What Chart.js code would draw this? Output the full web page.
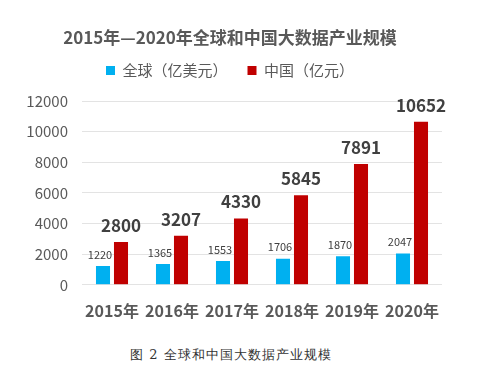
<!DOCTYPE html>
<html>
<head>
<meta charset="utf-8">
<script src="https://cdn.jsdelivr.net/npm/chart.js@4/dist/chart.umd.min.js"></script>
<style>
	body { margin: 0; background: #fff; }
	#wrap { position: relative; width: 496px; height: 382px; }
	#scale-chart { position: absolute; left: 0; top: 0; }
	#caption {
		position: absolute; left: 0; top: 346px; width: 462px;
		text-align: center; font: 13px "SimSun", "DejaVu Serif", serif;
		letter-spacing: 1px; color: #333;
	}
</style>
</head>
<body>
<div id="wrap">
	<canvas id="scale-chart" width="460" height="330"></canvas>
	<div id="caption">图 2 全球和中国大数据产业规模</div>
</div>
<script>
//
// Global vs China big data industry
//

var years = ['2015年', '2016年', '2017年', '2018年', '2019年', '2020年'];
var globalValues = [1220, 1365, 1553, 1706, 1870, 2047];
var chinaValues = [2800, 3207, 4330, 5845, 7891, 10652];
var yMax = 12000;
var yStep = 2000;

var ScaleChart = (function() {

	//
	// Variables
	//

	var $chart = document.getElementById('scale-chart');
	var font = '"Noto Sans CJK SC", "Noto Sans", sans-serif';
	var grey = '#595959';


	//
	// Methods
	//

	// Value labels above the bars
	var valueLabels = {
		id: 'valueLabels',
		afterDatasetsDraw: function(chart) {
			var ctx = chart.ctx;
			ctx.save();
			ctx.textAlign = 'center';
			ctx.textBaseline = 'bottom';
			ctx.fillStyle = '#404040';
			chart.data.datasets.forEach(function(ds, i) {
				var big = i === 1;
				ctx.font = (big ? 'bold 17px ' : '11px ') + font;
				chart.getDatasetMeta(i).data.forEach(function(bar, j) {
					ctx.fillText(ds.data[j], bar.x - (big ? 0 : 3), bar.y - (big ? 8 : 6));
				});
			});
			ctx.restore();
		}
	};

	// Extra room under the legend
	var legendGap = {
		id: 'legendGap',
		beforeInit: function(chart) {
			var fit = chart.legend.fit;
			chart.legend.fit = function() {
				fit.call(this);
				this.height += 13;
			};
		}
	};

	// Init chart
	function initChart($chart) {

		// Create chart
		var chart = new Chart($chart, {
			type: 'bar',
			data: {
				labels: years,
				datasets: [{
					label: '全球（亿美元）',
					data: globalValues,
					backgroundColor: '#00b0f0'
				}, {
					label: '中国（亿元）',
					data: chinaValues,
					backgroundColor: '#c00000'
				}]
			},
			options: {
				responsive: false,
				animation: false,
				categoryPercentage: 0.6,
				barPercentage: 0.78,
				layout: { padding: { top: 0, right: 18, bottom: 0, left: 18 } },
				plugins: {
					title: {
						display: true,
						text: '2015年—2020年全球和中国大数据产业规模',
						color: grey,
						font: { family: font, size: 17, weight: 'bold', lineHeight: 1 },
						padding: { top: 29, bottom: -3 }
					},
					legend: {
						labels: {
							color: grey,
							font: { family: font, size: 15 },
							boxWidth: 9,
							boxHeight: 9,
							padding: 20
						}
					},
					tooltip: { enabled: false }
				},
				scales: {
					x: {
						grid: { display: false },
						border: { display: false },
						ticks: {
							color: grey,
							padding: 9,
							font: { family: font, size: 16, weight: 'bold' }
						}
					},
					y: {
						min: 0,
						max: yMax,
						afterFit: function(scale) { scale.width = 64; },
						grid: { color: '#e3e3e3', drawTicks: false },
						border: { display: false },
						ticks: {
							stepSize: yStep,
							color: grey,
							padding: 14,
							font: { family: font, size: 15 },
							callback: function(v) { return String(v); }
						}
					}
				}
			},
			plugins: [valueLabels, legendGap]
		});

		return chart;
	}


	// Init chart
	if ($chart) {
		return initChart($chart);
	}

})();
</script>
</body>
</html>
